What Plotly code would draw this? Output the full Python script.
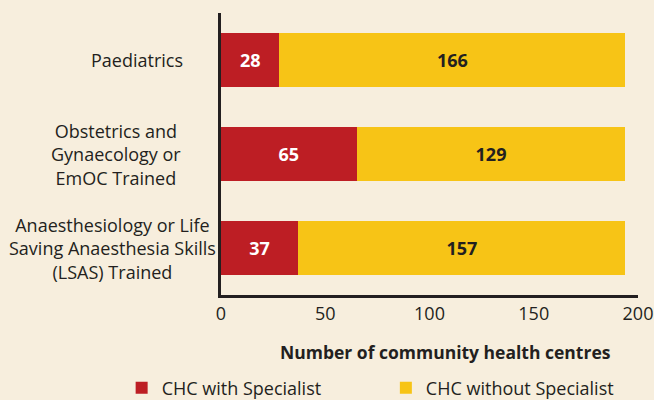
import plotly.graph_objects as go

categories = ["Paediatrics",
              "Obstetrics and<br>Gynaecology or<br>EmOC Trained",
              "Anaesthesiology or Life<br>Saving Anaesthesia Skills<br>(LSAS) Trained"]
with_specialist = [28, 65, 37]
without_specialist = [166, 129, 157]
x_ticks = [0, 50, 100, 150, 200]
x_title = "Number of community health centres"

RED = "#BD1E24"
YELLOW = "#F7C416"
BG = "#F7EEDD"
TXT = "#231F20"
FONT = "'Open Sans', sans-serif"
FS = 18

ML, MR, MT, MB = 221, 16, 13, 105
PLOT_W = 654 - ML - MR
PLOT_H = 400 - MT - MB

fig = go.Figure()
fig.add_trace(go.Bar(
    y=categories, x=with_specialist, orientation="h", name="CHC with Specialist",
    marker=dict(color=RED, line=dict(width=0)), width=0.575, legend="legend",
    text=with_specialist, textposition="inside", insidetextanchor="middle",
    textfont=dict(color="white", size=FS, family=FONT, weight="bold"),
))
fig.add_trace(go.Bar(
    y=categories, x=without_specialist, orientation="h", name="CHC without Specialist",
    marker=dict(color=YELLOW, line=dict(width=0)), width=0.575, legend="legend2",
    text=without_specialist, textposition="inside", insidetextanchor="middle",
    textfont=dict(color=TXT, size=FS, family=FONT, weight="bold"),
))

# centered multi-line category labels
label_centers_px = [137, 116, 112]
for cat, cx in zip(categories, label_centers_px):
    fig.add_annotation(
        x=(cx - ML) / PLOT_W, xref="paper", y=cat, yref="y",
        text=cat, showarrow=False, align="center", xanchor="center", yanchor="middle",
        font=dict(size=FS, color=TXT, family=FONT),
    )

# x-axis title (offset to the right as in the reference)
fig.add_annotation(
    x=(445.5 - ML) / PLOT_W, xref="paper", y=(400 - MB - 352) / PLOT_H, yref="paper",
    text="<b>%s</b>" % x_title, showarrow=False, xanchor="center", yanchor="middle",
    font=dict(size=17.5, color=TXT, family=FONT),
)

legend_common = dict(
    orientation="h", xref="container", yref="container",
    xanchor="left", y=0.03, yanchor="middle",
    font=dict(size=FS, color=TXT, family=FONT),
    itemwidth=30, bgcolor="rgba(0,0,0,0)",
)

fig.update_layout(
    width=654, height=400,
    barmode="stack",
    paper_bgcolor=BG, plot_bgcolor=BG,
    margin=dict(l=ML, r=MR, t=MT, b=MB, autoexpand=False),
    font=dict(family=FONT, color=TXT, size=FS),
    showlegend=True,
    legend=dict(x=0.186, **legend_common),
    legend2=dict(x=0.59, **legend_common),
)
fig.update_yaxes(
    autorange="reversed", showticklabels=False, ticks="", automargin=False,
    showline=True, linecolor=TXT, linewidth=2.5, showgrid=False, zeroline=False,
)
fig.update_xaxes(
    range=[0, 200], tickvals=x_ticks, ticktext=[str(t) for t in x_ticks],
    showline=True, linecolor=TXT, linewidth=2.5, showgrid=False, zeroline=False,
    ticks="", automargin=False, ticklabelstandoff=1,
    tickfont=dict(size=FS, color=TXT, family=FONT),
)

fig.write_html(
    "out.html",
    config={"displayModeBar": False},
    post_script="document.body.style.margin='0';document.body.style.background='%s';" % BG,
)
